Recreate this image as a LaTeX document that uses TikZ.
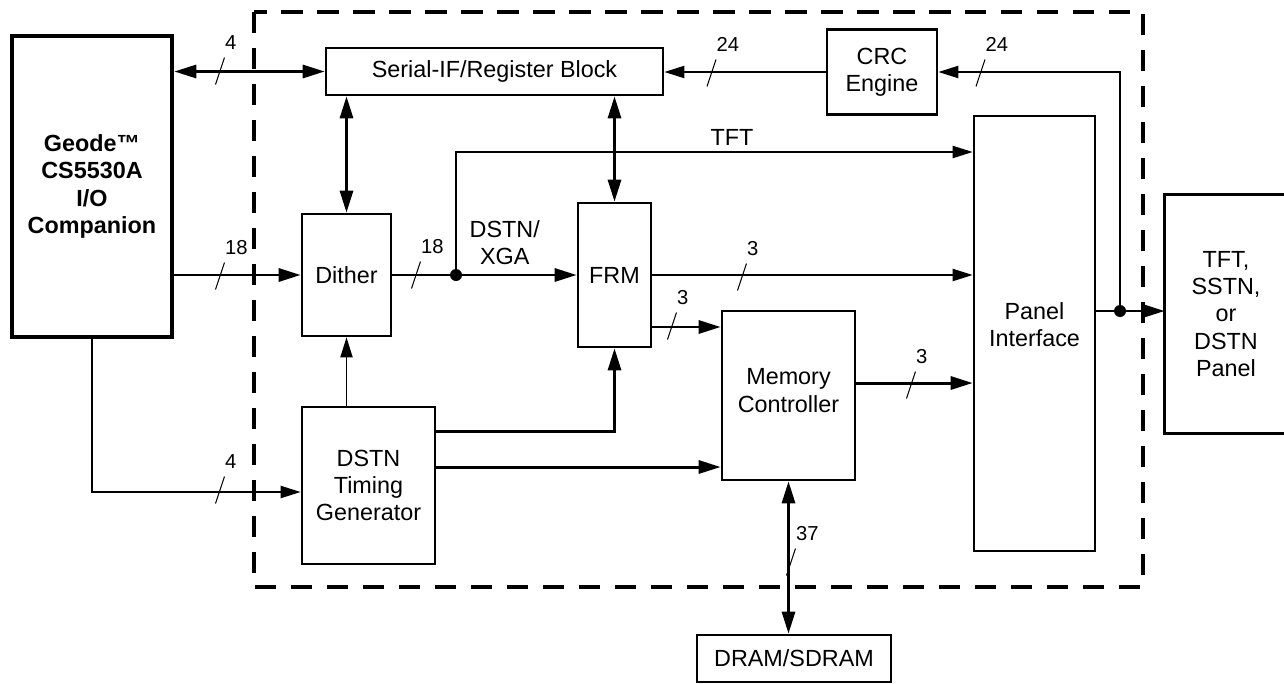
\documentclass[tikz,border=0pt]{standalone}
\usepackage{fontspec}
\setmainfont{Liberation Sans}
\usetikzlibrary{arrows.meta,calc}

% marque de bus : trait oblique + largeur
\newcommand{\busmark}[3]{%
  \draw[slash] ($(#1,#2)+(-4.5,13.5)$) -- ++(9,-27)
    node[anchor=south west, inner sep=0pt, yshift=0.14cm, font=\fontsize{11.5}{13}\selectfont] {#3};}

\begin{document}
\begin{tikzpicture}[
    x=0.02cm, y=-0.02cm,
    >={Triangle[length=0.44cm,width=0.26cm]},
    block/.style={draw, line width=1.5pt, align=center, inner sep=0pt, font=\fontsize{13.3}{15.5}\selectfont},
    bus/.style={line width=1.7pt},
    sig/.style={line width=1.1pt, >={Triangle[length=0.4cm,width=0.24cm]}},
    slash/.style={line width=0.6pt},
    outline/.style={line width=1.8pt, dash pattern=on 0.43cm off 0.29cm},
    lbl/.style={font=\fontsize{13.3}{15.5}\selectfont, align=center}
]
\fill[white] (0,0) rectangle (1284,683);
\useasboundingbox (0,0) rectangle (1284,683);

% Limite du circuit
\draw[outline] (254,12) rectangle (1143,587);

% Blocs
\node[block, line width=2.6pt, font=\bfseries\fontsize{13.3}{15.5}\selectfont, minimum width=3.2cm, minimum height=6.02cm] (geode) at (92,186.5) {Geode™\\CS5530A\\I/O\\Companion};
\node[block, minimum width=6.74cm, minimum height=0.94cm] (serial) at (494.5,71.5) {Serial-IF/Register Block};
\node[block, minimum width=2.2cm, minimum height=1.7cm] (crc) at (882,72) {CRC\\Engine};
\node[block, minimum width=2.42cm, minimum height=8.7cm] (panel) at (1034.5,333.5) {};
\node[lbl] at ([yshift=0.18cm]panel.center) {Panel\\Interface};
\node[block, minimum width=1.78cm, minimum height=2.44cm] (dither) at (346.5,275) {Dither};
\node[block, minimum width=1.46cm, minimum height=2.88cm] (frm) at (614.5,275) {FRM};
\node[block, minimum width=2.66cm, minimum height=3.38cm] (memctl) at (788.5,395.5) {};
\node[lbl] at ([yshift=0.1cm]memctl.center) {Memory\\Controller};
\node[block, minimum width=2.66cm, minimum height=3.14cm] (timing) at (368.5,485.5) {DSTN\\Timing\\Generator};
\node[block, minimum width=3.88cm, minimum height=0.94cm] (dram) at (794,658.5) {DRAM/SDRAM};
\node[block, draw=none, minimum width=2.4cm, minimum height=4.72cm] (lcd) at (1226,314) {TFT,\\SSTN,\\or\\DSTN\\Panel};
\draw[line width=1.5pt] (lcd.north east) -- (lcd.north west) -- (lcd.south west) -- (lcd.south east);

% Points de jonction
\coordinate (split) at (456,275);
\coordinate (tap) at (1120,311);
\coordinate (tftrow) at (0,152);

% Liaisons
\draw[bus,<->] (serial.west -| geode.east) -- (serial.west);
\draw[bus,<->] (serial.south -| dither.north) -- (dither.north);
\draw[bus,<->] (serial.south -| frm.north) -- (frm.north);
\draw[sig,->] (crc.west) -- (crc.west -| serial.east);
\draw[sig,->] (tap) |- (crc.east);
\draw[bus,->] (tap -| panel.east) -- (tap -| lcd.west);
\draw[bus,->] (dither.west -| geode.east) -- (dither.west);
\draw[bus,->] (dither.east) -- node[lbl, pos=0.61, above, inner sep=5pt] {DSTN/\\XGA} (frm.west);
\draw[sig,->] (split) |- node[lbl, pos=0.767, above] {TFT} (tftrow -| panel.west);
\draw[sig,->] (frm.east) -- (frm.east -| panel.west);
\draw[bus,->] ([yshift=-1.04cm]frm.east) coordinate (f3) -- (f3 -| memctl.west);
\draw[bus,->] ([yshift=0.25cm]memctl.east) coordinate (m3) -- (m3 -| panel.west);
\draw[sig,->] (geode.south) |- ([yshift=-0.13cm]timing.west);
\draw[sig,->] (timing.north -| dither.south) -- (dither.south);
\draw[bus,->] ([yshift=1.09cm]timing.east) -| (frm.south);
\draw[bus,->] ([yshift=0.37cm]timing.east) coordinate (t2) -- (t2 -| memctl.west);
\draw[bus,<->] (memctl.south) -- (memctl.south |- dram.north);
\fill (split) circle[radius=0.12cm];
\fill (tap) circle[radius=0.12cm];

% Largeurs de bus
\busmark{220}{71}{4}
\busmark{220}{276}{18}
\busmark{416}{275}{18}
\busmark{711.5}{73}{24}
\busmark{980.5}{73}{24}
\busmark{742}{277}{3}
\busmark{672}{326}{3}
\busmark{911}{385}{3}
\busmark{220}{490}{4}
\busmark{791}{562}{37}

\end{tikzpicture}
\end{document}
